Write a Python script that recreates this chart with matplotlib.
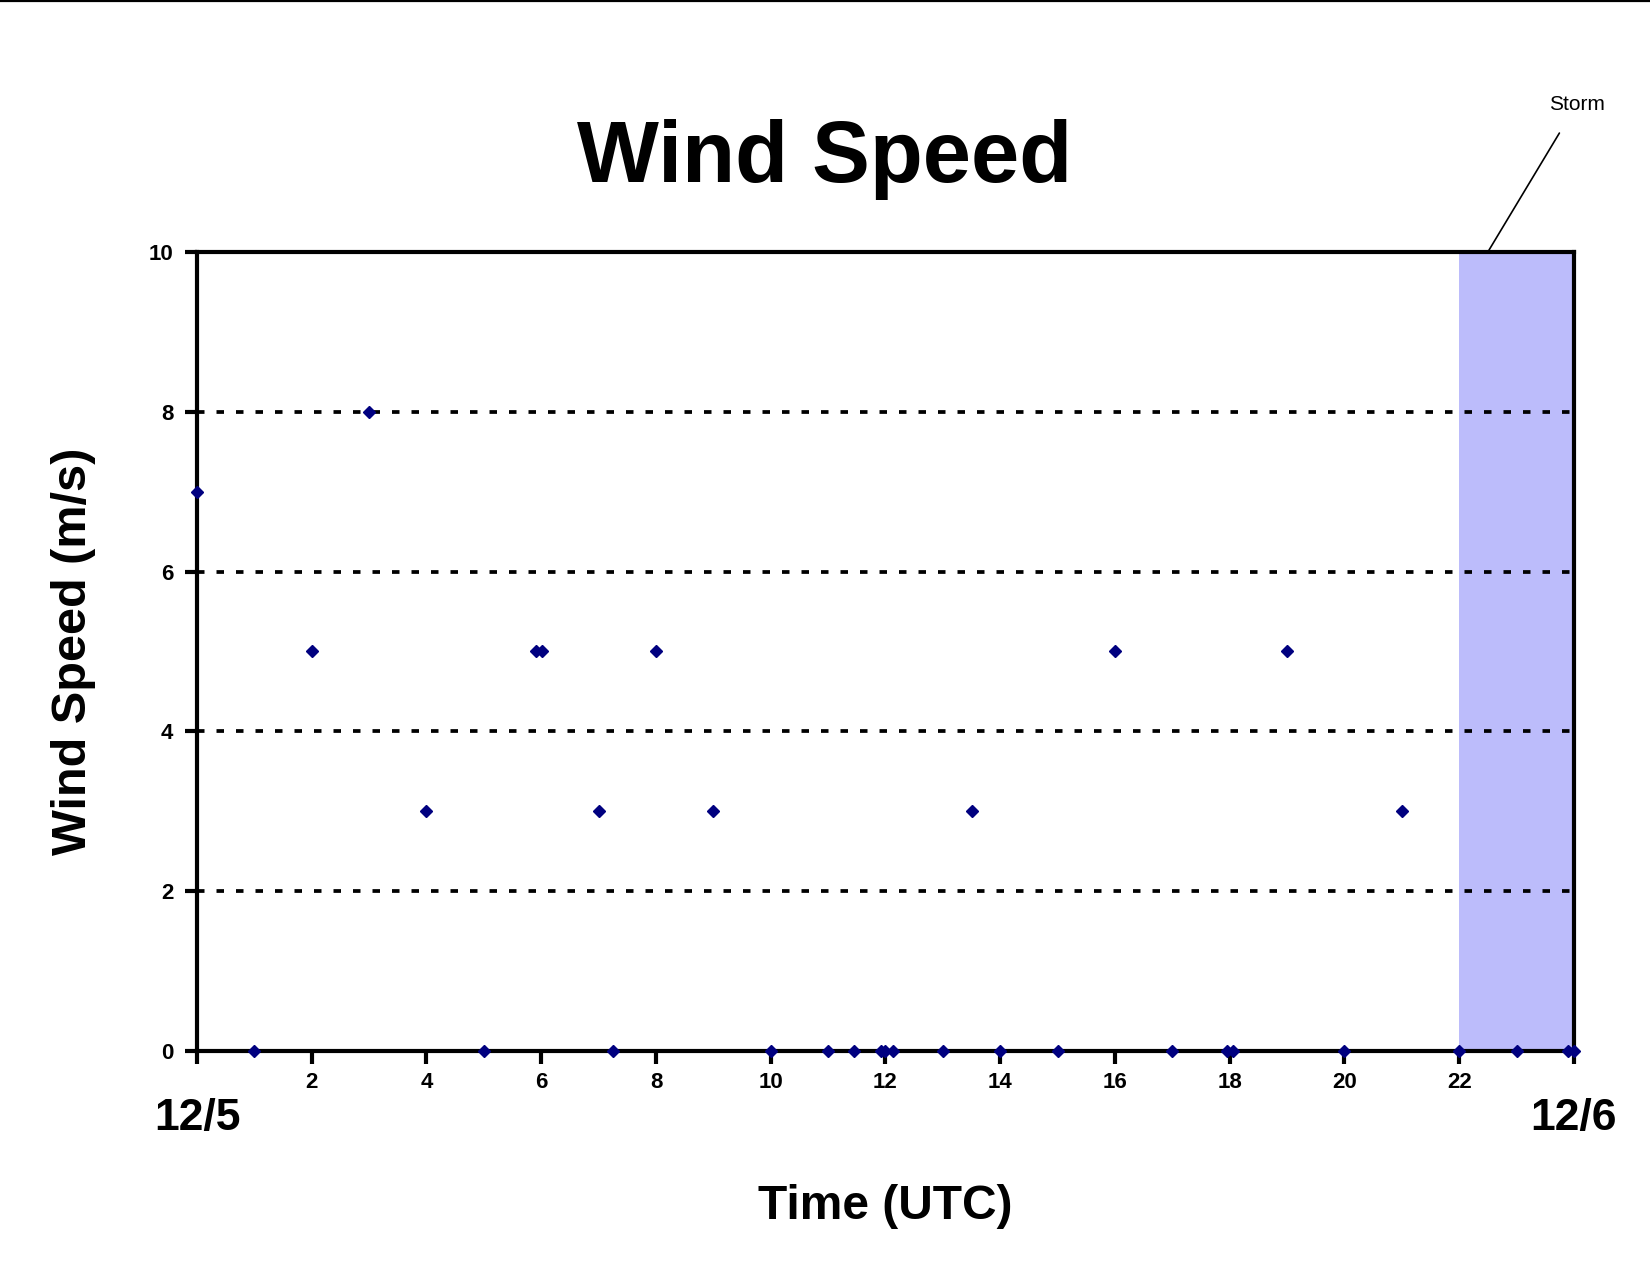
import numpy as np
import matplotlib
matplotlib.use("Agg")
import matplotlib.pyplot as plt
from matplotlib.lines import Line2D

# -----------------------------
# Data (hours UTC from 12/5 00Z, wind speed m/s)
# -----------------------------
hours = [0, 1, 2, 3, 4, 5, 5.9, 6.02, 7, 7.25, 8, 9, 10, 11, 11.45,
         11.92, 12.0, 12.13, 13, 13.5, 14, 15, 16, 17, 17.95, 18.05,
         19, 20, 21, 22, 23, 23.9, 24]
speed = [7, 0, 5, 8, 3, 0, 5, 5, 3, 0, 5, 3, 0, 0, 0,
         0, 0, 0, 0, 3, 0, 0, 5, 0, 0, 0,
         5, 0, 3, 0, 0, 0, 0]

storm_start = 22
storm_end = 24
x_ticks = [0, 2, 4, 6, 8, 10, 12, 14, 16, 18, 20, 22, 24]
x_ticklabels = ["", "2", "4", "6", "8", "10", "12", "14", "16", "18", "20", "22", ""]
y_ticks = [0, 2, 4, 6, 8, 10]

plt.rcParams['font.family'] = ['Liberation Sans', 'DejaVu Sans']

fig = plt.figure(figsize=(16.5, 12.75), dpi=100)
ax = fig.add_axes([0.1194, 0.1757, 0.8345, 0.6267])

# storm shading
ax.axvspan(storm_start, storm_end, color='#BCBCFB', lw=0, zorder=0)

# dotted gridlines
for y in y_ticks[1:-1]:
    ax.axhline(y, color='black', lw=2.7, linestyle=(0, (2.0, 3.2)), zorder=1)

ax.plot(hours, speed, linestyle='none', marker='D', markersize=6,
        color='#000080', clip_on=False, zorder=5)

ax.set_xlim(0, 24)
ax.set_ylim(0, 10)
ax.set_xticks(x_ticks)
ax.set_xticklabels(x_ticklabels)
ax.set_yticks(y_ticks)
ax.tick_params(axis='both', direction='out', length=9, width=3,
               labelsize=16, pad=6)
ax.tick_params(axis='y', pad=8)
for lbl in ax.get_xticklabels() + ax.get_yticklabels():
    lbl.set_fontweight('bold')
for s in ax.spines.values():
    s.set_linewidth(3)

ax.set_ylabel("Wind Speed (m/s)", fontsize=35, fontweight='bold', labelpad=38)
ax.set_xlabel("Time (UTC)", fontsize=34.5, fontweight='bold', labelpad=66)

# date labels under the axis ends
ax.text(0, -0.85, "12/5", transform=ax.transData, ha='center', va='center',
        fontsize=32, fontweight='bold')
ax.text(24, -0.85, "12/6", transform=ax.transData, ha='center', va='center',
        fontsize=32, fontweight='bold')

fig.text(0.4995, 0.875, "Wind Speed", ha='center', va='center',
         fontsize=62.5, fontweight='bold')

# storm callout
ax.annotate("Storm", xy=(22.5, 10), xytext=(24.05, 11.85),
            ha='center', va='center', fontsize=15,
            arrowprops=dict(arrowstyle='-', color='black', lw=1.2,
                            shrinkA=14, shrinkB=0),
            annotation_clip=False)

# thin rule at very top of the page
fig.add_artist(Line2D([0, 1], [0.9992, 0.9992], color='black', lw=1.6,
                      transform=fig.transFigure))

fig.savefig("out.png", dpi=100)
